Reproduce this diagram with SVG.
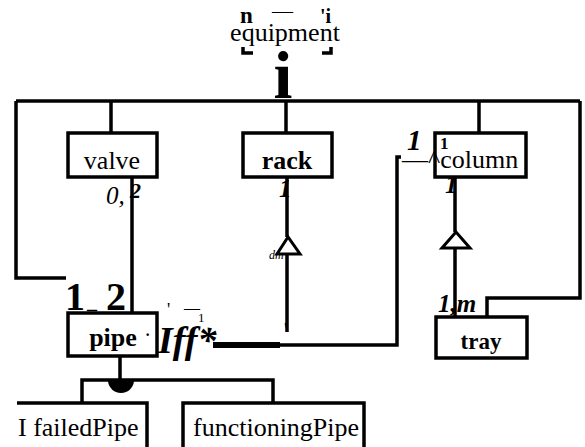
<svg xmlns="http://www.w3.org/2000/svg" width="585" height="447" viewBox="0 0 585 447">
<style>
.box{fill:#fff;stroke:#000;stroke-width:3.5}
.ln{fill:none;stroke:#000;stroke-width:3.5}
.t{font-family:"Liberation Serif","Times New Roman",serif;fill:#000}
.b{font-weight:bold}
.i{font-style:italic}
</style>
<rect width="585" height="447" fill="#fff"/>
<g id="connectors">
<path class="ln" d="M16,101 H580"/>
<path class="ln" d="M16,101 V278 H66"/>
<path class="ln" d="M111,101 V133"/>
<path class="ln" d="M286,101 V133"/>
<path class="ln" d="M479,101 V133"/>
<path class="ln" d="M580,101 V298 H487 V317"/>
<path class="ln" d="M132,177 V313"/>
<path class="ln" d="M287,177 V237 M287,254 V332"/>
<polygon points="288,237 277,254 300,254" fill="#fff" stroke="#000" stroke-width="3"/>
<path class="ln" d="M213,345 H397 V157 H401"/>
<path d="M213,342 H280 V348 H213 Z" fill="#000"/>
<path class="ln" d="M455,177 V232 M455,247 V317"/>
<polygon points="456,232 442,248 470,248" fill="#fff" stroke="#000" stroke-width="3"/>
<path class="ln" d="M120,357 V380"/>
<path class="ln" d="M82,403 V380 H273 V403"/>
<path d="M108,380 A13,13 0 0 0 134,380 Z" fill="#000"/>
</g>
<g id="equipment">
<text class="t b" x="240" y="23" font-size="23">n</text>
<text class="t" x="272" y="18" font-size="21">—</text>
<text class="t b" x="320" y="23" font-size="20">'i</text>
<text class="t" x="285" y="41" font-size="26" text-anchor="middle">equipment</text>
<path class="ln" stroke-width="3" d="M243,47 V53 H253 M331,47 V53 H322"/>
<text class="t b" x="283" y="98" font-size="68" text-anchor="middle">i</text>
</g>
<g id="valve">
<rect class="box" x="68" y="133" width="89" height="44"/>
<text class="t" x="112" y="169" font-size="26" text-anchor="middle">valve</text>
<text class="t i" x="106" y="204" font-size="25">0,</text>
<text class="t i b" x="130" y="198" font-size="22">2</text>
</g>
<g id="rack">
<rect class="box" x="243" y="133" width="89" height="44"/>
<text class="t b" x="287" y="169" font-size="26" text-anchor="middle">rack</text>
<text class="t i b" x="279" y="197" font-size="25">1</text>
<text class="t i" x="269" y="259" font-size="12">dm</text>
<text class="t" x="284" y="336" font-size="18">'</text>
</g>
<g id="column">
<rect class="box" x="435" y="133" width="91" height="44"/>
<text class="t" x="402" y="168" font-size="26">—^column</text>
<text class="t i b" x="407" y="150" font-size="29">1</text>
<text class="t b" x="440" y="149" font-size="17">1</text>
<text class="t i b" x="445" y="193" font-size="25">1</text>
</g>
<g id="tray">
<rect class="box" x="436" y="317" width="91" height="41"/>
<text class="t b" x="481" y="349" font-size="23" text-anchor="middle">tray</text>
<text class="t i b" x="438" y="312" font-size="25">1,m</text>
</g>
<g id="pipe">
<rect class="box" x="68" y="313" width="89" height="43"/>
<text class="t b" x="113" y="346" font-size="26" text-anchor="middle">pipe</text>
<text class="t b" x="145" y="340" font-size="16">·</text>
<text class="t b" x="65" y="310" font-size="40">1</text>
<text class="t b" x="87" y="308" font-size="20">_</text>
<text class="t b" x="106" y="310" font-size="40">2</text>
<text class="t" x="167" y="316" font-size="18">'</text>
<text class="t" x="184" y="313" font-size="16">—</text>
<text class="t" x="198" y="322" font-size="13">1</text>
<text class="t i b" x="158" y="353" font-size="38">Iff*</text>
</g>
<g id="failedPipe">
<path class="ln" d="M17,403 H147 V452"/>
<text class="t" x="18" y="436" font-size="26">I failedPipe</text>
</g>
<g id="functioningPipe">
<rect class="box" x="183" y="403" width="181" height="50"/>
<text class="t" x="193" y="436" font-size="26">functioningPipe</text>
</g>
</svg>
